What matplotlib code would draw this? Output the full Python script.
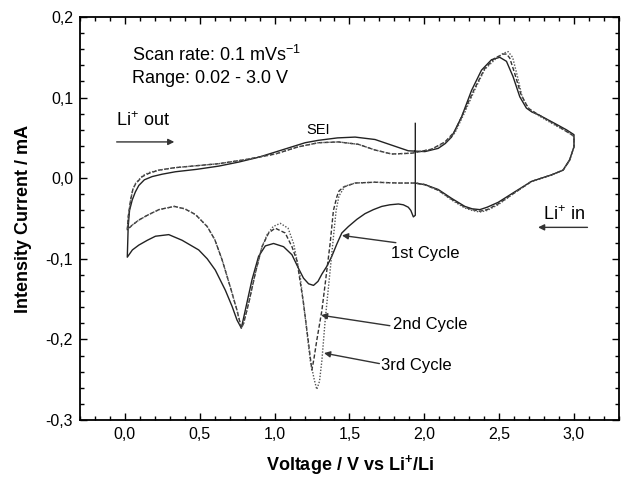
import numpy as np
import matplotlib
matplotlib.use('Agg')
import matplotlib.pyplot as plt
from matplotlib.ticker import MultipleLocator, FuncFormatter

plt.rcParams['font.family'] = ['Liberation Sans', 'DejaVu Sans']
plt.rcParams['mathtext.fontset'] = 'custom'
plt.rcParams['mathtext.rm'] = 'Liberation Sans'
plt.rcParams['mathtext.bf'] = 'Liberation Sans:bold'

# 1st cycle (solid): starts at OCV, cathodic to 0.02 V, anodic to 3.0 V, back to ~1.94 V
v1 = [1.94, 1.94, 1.927, 1.91, 1.893, 1.86, 1.827, 1.77, 1.716, 1.66, 1.604, 1.55, 1.493, 1.449,
      1.415, 1.382, 1.35, 1.316, 1.29, 1.26,
      1.227, 1.193, 1.16, 1.116, 1.06, 0.993, 0.938, 0.893, 0.849, 0.804, 0.778,
      0.749, 0.716, 0.671, 0.604, 0.55, 0.493, 0.382, 0.293, 0.204, 0.15, 0.093, 0.05, 0.016,
      0.022, 0.031, 0.049, 0.07, 0.093, 0.13, 0.182, 0.25, 0.338, 0.48, 0.627, 0.76, 0.893, 1.049, 1.204,
      1.293, 1.42, 1.538, 1.671, 1.782, 1.893, 2.004, 2.093, 2.14, 2.182, 2.249, 2.316, 2.382,
      2.449, 2.504, 2.549, 2.593, 2.638, 2.682, 2.72, 2.76, 2.871, 2.95, 3.0,
      3.0, 2.971, 2.927, 2.849, 2.716, 2.604, 2.493, 2.42, 2.371, 2.32, 2.271, 2.182, 2.093,
      2.004, 1.938]
i1 = [0.068, -0.046, -0.048, -0.040, -0.036, -0.033, -0.032, -0.033, -0.035, -0.039, -0.044, -0.051, -0.060, -0.068,
      -0.082, -0.097, -0.109, -0.119, -0.128, -0.133,
      -0.131, -0.124, -0.112, -0.095, -0.085, -0.081, -0.084, -0.097, -0.126, -0.164, -0.186,
      -0.176, -0.159, -0.139, -0.114, -0.100, -0.089, -0.077, -0.070, -0.072, -0.077, -0.083, -0.089, -0.098,
      -0.060, -0.040, -0.027, -0.017, -0.009, -0.002, 0.002, 0.005, 0.008, 0.011, 0.015, 0.020, 0.026, 0.035, 0.044,
      0.047, 0.050, 0.051, 0.048, 0.041, 0.034, 0.033, 0.037, 0.043, 0.051, 0.076, 0.109, 0.134,
      0.147, 0.150, 0.145, 0.126, 0.101, 0.087, 0.082, 0.079, 0.068, 0.060, 0.054,
      0.039, 0.023, 0.010, 0.004, -0.004, -0.017, -0.030, -0.036, -0.039, -0.038, -0.035, -0.025, -0.014,
      -0.008, -0.006]

# 2nd cycle (dashed)
v2 = [1.938, 1.827, 1.671, 1.538, 1.46, 1.43, 1.416, 1.393, 1.371, 1.338, 1.316, 1.282,
      1.262, 1.249, 1.227, 1.193, 1.149, 1.116, 1.071, 1.004, 0.96, 0.916, 0.871, 0.827,
      0.793, 0.778, 0.749, 0.704, 0.649, 0.60, 0.55, 0.471, 0.40, 0.33, 0.227, 0.15, 0.093,
      0.05, 0.016,
      0.022, 0.038, 0.053, 0.071, 0.116, 0.16, 0.227, 0.33, 0.449, 0.627, 0.804, 1.004, 1.16, 1.293,
      1.427, 1.56, 1.671, 1.782, 1.916, 2.049, 2.138, 2.204, 2.271, 2.338, 2.404,
      2.471, 2.527, 2.55, 2.571, 2.604, 2.644, 2.693, 2.76, 2.871, 2.95, 3.0,
      3.0, 2.971, 2.927, 2.849, 2.716, 2.604, 2.493, 2.42, 2.371, 2.32, 2.271, 2.182, 2.093,
      2.004, 1.938]
i2 = [-0.006, -0.006, -0.005, -0.006, -0.011, -0.016, -0.023, -0.040, -0.081, -0.131, -0.164, -0.201,
      -0.225, -0.238, -0.205, -0.155, -0.102, -0.085, -0.068, -0.062, -0.068, -0.085, -0.118, -0.155,
      -0.180, -0.186, -0.164, -0.135, -0.101, -0.076, -0.060, -0.045, -0.038, -0.035, -0.039, -0.046, -0.052,
      -0.058, -0.064,
      -0.048, -0.027, -0.014, -0.007, 0.002, 0.006, 0.010, 0.013, 0.015, 0.018, 0.023, 0.030, 0.039, 0.044,
      0.045, 0.042, 0.035, 0.030, 0.031, 0.036, 0.045, 0.058, 0.085, 0.112, 0.136,
      0.149, 0.154, 0.154, 0.149, 0.130, 0.105, 0.087, 0.079, 0.067, 0.058, 0.052,
      0.039, 0.022, 0.010, 0.004, -0.004, -0.018, -0.032, -0.039, -0.041, -0.039, -0.036, -0.026, -0.015,
      -0.008, -0.006]

# 3rd cycle (dotted)
v3 = [1.938, 1.827, 1.671, 1.538, 1.47, 1.43, 1.411, 1.393, 1.367, 1.338, 1.316,
      1.30, 1.282, 1.265, 1.238, 1.204, 1.171, 1.127, 1.09, 1.038, 0.99, 0.95,
      0.916, 0.871, 0.827, 0.793, 0.778, 0.749, 0.704, 0.649, 0.60, 0.55, 0.471,
      0.40, 0.33, 0.227, 0.15, 0.093, 0.05, 0.016,
      0.024, 0.040, 0.055, 0.073, 0.118, 0.16, 0.227, 0.33, 0.449, 0.627, 0.804, 1.004, 1.16, 1.293,
      1.427, 1.56, 1.671, 1.782, 1.916, 2.049, 2.138, 2.204, 2.271, 2.338, 2.404,
      2.471, 2.527, 2.56, 2.59, 2.62, 2.655, 2.70, 2.76, 2.871, 2.95, 3.0,
      3.0, 2.971, 2.927, 2.849, 2.716, 2.604, 2.493, 2.42, 2.371, 2.32, 2.271, 2.182, 2.093,
      2.004, 1.938]
i3 = [-0.006, -0.006, -0.005, -0.006, -0.010, -0.022, -0.040, -0.073, -0.122, -0.176, -0.226,
      -0.252, -0.262, -0.250, -0.226, -0.172, -0.122, -0.081, -0.062, -0.056, -0.060, -0.070,
      -0.085, -0.118, -0.155, -0.180, -0.186, -0.164, -0.135, -0.101, -0.076, -0.060, -0.045,
      -0.038, -0.035, -0.039, -0.046, -0.052, -0.058, -0.064,
      -0.046, -0.025, -0.013, -0.006, 0.003, 0.007, 0.010, 0.013, 0.015, 0.018, 0.023, 0.030, 0.039, 0.044,
      0.045, 0.042, 0.035, 0.030, 0.031, 0.036, 0.044, 0.056, 0.082, 0.110, 0.135,
      0.147, 0.155, 0.157, 0.150, 0.128, 0.100, 0.086, 0.078, 0.066, 0.058, 0.052,
      0.039, 0.022, 0.010, 0.004, -0.004, -0.018, -0.033, -0.040, -0.042, -0.040, -0.037, -0.027, -0.015,
      -0.008, -0.006]

fig = plt.figure(figsize=(6.22, 4.80), dpi=100)
ax = fig.add_axes([0.1286, 0.125, 0.8664, 0.8396])

ax.plot(v1, i1, color='#222222', lw=1.0, ls='-')
ax.plot(v2, i2, color='#333333', lw=1.0, ls=(0, (3, 1.5)))
ax.plot(v3, i3, color='#555555', lw=1.0, ls=(0, (1, 1.2)))

ax.set_xlim(-0.3, 3.3)
ax.set_ylim(-0.3, 0.2)
ax.xaxis.set_major_locator(MultipleLocator(0.5))
ax.xaxis.set_minor_locator(MultipleLocator(0.1))
ax.yaxis.set_major_locator(MultipleLocator(0.1))
ax.yaxis.set_minor_locator(MultipleLocator(0.02))
comma = FuncFormatter(lambda v, p: ('%.1f' % v).replace('.', ','))
ax.xaxis.set_major_formatter(comma)
ax.yaxis.set_major_formatter(comma)
ax.tick_params(which='both', direction='in', top=True, right=True, labelsize=11.5, width=1.0)
ax.tick_params(which='major', length=5, pad=5)
ax.tick_params(which='minor', length=3)
for s in ax.spines.values():
    s.set_linewidth(1.3)

ax.set_xlabel(r'Voltage / V vs Li$^{\mathbf{+}}$/Li', fontsize=13, fontweight='bold', labelpad=8)
ax.set_ylabel('Intensity Current / mA', fontsize=13, fontweight='bold', labelpad=10)

ax.text(0.045, 0.153, 'Scan rate: 0.1 mVs$^{-1}$', fontsize=13, va='center')
ax.text(0.045, 0.124, 'Range: 0.02 - 3.0 V', fontsize=13, va='center')
ax.text(1.215, 0.060, 'SEI', fontsize=10.5, va='center')

arr = dict(arrowstyle='-|>', color='#333333', lw=1.0, mutation_scale=9, shrinkA=0, shrinkB=0)
ax.text(-0.06, 0.072, 'Li$^{+}$ out', fontsize=13, va='center')
ax.annotate('', xy=(0.33, 0.045), xytext=(-0.055, 0.045), arrowprops=arr)
ax.text(2.79, -0.045, 'Li$^{+}$ in', fontsize=13, va='center')
ax.annotate('', xy=(2.76, -0.061), xytext=(3.09, -0.061), arrowprops=arr)

ax.text(1.78, -0.094, '1st Cycle', fontsize=12, va='center')
ax.annotate('', xy=(1.45, -0.071), xytext=(1.81, -0.080), arrowprops=arr)
ax.text(1.79, -0.181, '2nd Cycle', fontsize=12, va='center')
ax.annotate('', xy=(1.31, -0.170), xytext=(1.77, -0.183), arrowprops=arr)
ax.text(1.71, -0.232, '3rd Cycle', fontsize=12, va='center')
ax.annotate('', xy=(1.33, -0.217), xytext=(1.70, -0.230), arrowprops=arr)

fig.savefig('out.png', dpi=100)
